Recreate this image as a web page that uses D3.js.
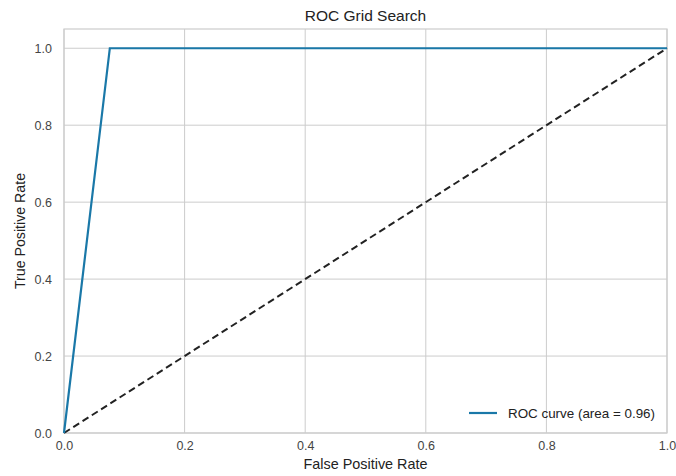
<!DOCTYPE html>
<html><head><meta charset="utf-8">
<script src="https://cdn.jsdelivr.net/npm/d3@7"></script>
<style>body{margin:0;background:#fff;} svg{display:block;font-family:"Liberation Sans",Arial,sans-serif;}</style>
</head><body>
<svg id="c" width="676" height="476"></svg>
<script>
const rocFpr = [0.0, 0.076, 1.0];
const rocTpr = [0.0, 1.0, 1.0];
const diagX = [0, 1];
const diagY = [0, 1];
const xTicks = [0, 0.2, 0.4, 0.6, 0.8, 1.0];
const yTicks = [0, 0.2, 0.4, 0.6, 0.8, 1.0];
const legendLabel = "ROC curve (area = 0.96)";

const svg = d3.select("#c");
const L = 64, R = 667, T = 29, B = 433;
const x = d3.scaleLinear().domain([0, 1]).range([L, R]);
const y = d3.scaleLinear().domain([0, 1.05]).range([B, T]);

// grid
const g = svg.append("g");
g.selectAll(".gx").data(xTicks).enter().append("line")
  .attr("x1", d => x(d)).attr("x2", d => x(d)).attr("y1", T).attr("y2", B)
  .attr("stroke", "#cccccc").attr("stroke-width", 1);
g.selectAll(".gy").data(yTicks).enter().append("line")
  .attr("y1", d => y(d)).attr("y2", d => y(d)).attr("x1", L).attr("x2", R)
  .attr("stroke", "#cccccc").attr("stroke-width", 1);
svg.append("rect").attr("x", L).attr("y", T).attr("width", R - L).attr("height", B - T)
  .attr("fill", "none").attr("stroke", "#cccccc").attr("stroke-width", 1.2);

// axes
const xa = svg.append("g").attr("transform", `translate(0,${B})`)
  .call(d3.axisBottom(x).tickValues(xTicks).tickFormat(d3.format(".1f")).tickSize(0).tickPadding(8));
const ya = svg.append("g").attr("transform", `translate(${L},0)`)
  .call(d3.axisLeft(y).tickValues(yTicks).tickFormat(d3.format(".1f")).tickSize(0).tickPadding(12));
[xa, ya].forEach(a => {
  a.select(".domain").remove();
  a.selectAll("text").attr("font-size", 12.5).attr("fill", "#444").attr("font-family", "Liberation Sans, Arial, sans-serif");
});

// diagonal
const line = d3.line().x(d => x(d[0])).y(d => y(d[1]));
svg.append("path").datum(diagX.map((v, i) => [v, diagY[i]])).attr("d", line)
  .attr("fill", "none").attr("stroke", "#222").attr("stroke-width", 2).attr("stroke-dasharray", "7,4");
// ROC
svg.append("path").datum(rocFpr.map((v, i) => [v, rocTpr[i]])).attr("d", line)
  .attr("fill", "none").attr("stroke", "#1a78a8").attr("stroke-width", 2.2);

// title and labels
svg.append("text").attr("x", (L + R) / 2).attr("y", 21).attr("text-anchor", "middle")
  .attr("font-size", 15.5).attr("fill", "#222").text("ROC Grid Search");
svg.append("text").attr("x", (L + R) / 2).attr("y", 469).attr("text-anchor", "middle")
  .attr("font-size", 14.4).attr("fill", "#222").text("False Positive Rate");
svg.append("text").attr("transform", `translate(25,${(T + B) / 2}) rotate(-90)`).attr("text-anchor", "middle")
  .attr("font-size", 14.2).attr("fill", "#222").text("True Positive Rate");

// legend
svg.append("line").attr("x1", 469).attr("x2", 497).attr("y1", 413).attr("y2", 413)
  .attr("stroke", "#1a78a8").attr("stroke-width", 2.2);
svg.append("text").attr("x", 508).attr("y", 418).attr("font-size", 13.4).attr("fill", "#222").text(legendLabel);
</script>
</body></html>
